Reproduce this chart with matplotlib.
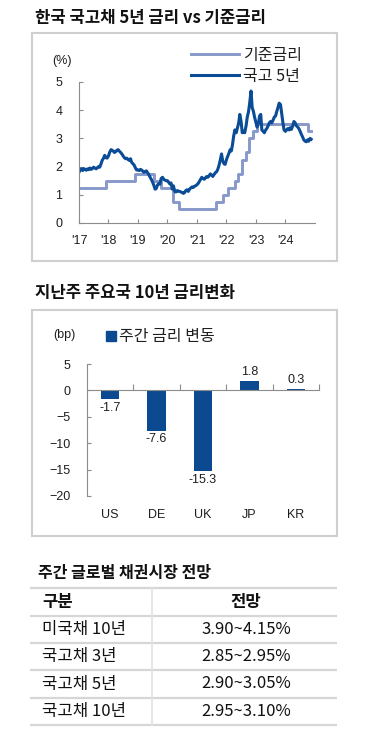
import numpy as np
import pandas as pd
import matplotlib
matplotlib.use("Agg")
from matplotlib import pyplot as plt
from matplotlib.patches import Rectangle, Patch

plt.rcParams["font.family"] = ["Liberation Sans", "Noto Sans CJK KR", "DejaVu Sans"]
KR = ["Noto Sans CJK KR", "DejaVu Sans"]

# ============
# data
# ============
# 한국 기준금리 (변경일, %)
base_dates = ["2017-01-01", "2017-11-30", "2018-11-30", "2019-07-18", "2019-10-16",
              "2020-03-16", "2020-05-28", "2021-08-26", "2021-11-25", "2022-01-14",
              "2022-04-14", "2022-05-26", "2022-07-13", "2022-08-25", "2022-10-12",
              "2022-11-24", "2023-01-13", "2024-10-11", "2024-11-15"]
base_rate = [1.25, 1.50, 1.75, 1.50, 1.25,
             0.75, 0.50, 0.75, 1.00, 1.25,
             1.50, 1.75, 2.25, 2.50, 3.00,
             3.25, 3.50, 3.25, 3.25]

# 국고 5년 (반월 간격, 2017-01 부터)
bond_start = "2017-01-01"
bond_5y = [
    1.80, 1.88, 1.92, 1.86, 1.93, 1.90, 1.87, 1.92, 1.89, 1.95, 1.90, 1.93,
    1.98, 1.95, 1.92, 1.96, 2.00, 1.98, 2.10, 2.22, 2.30, 2.40, 2.32, 2.30,
    2.38, 2.50, 2.60, 2.58, 2.55, 2.50, 2.53, 2.58, 2.60, 2.55, 2.50, 2.45,
    2.38, 2.32, 2.28, 2.30, 2.25, 2.22, 2.28, 2.15, 2.10, 2.05, 1.95, 1.88,
    1.88, 1.86, 1.90, 1.88, 1.84, 1.80, 1.82, 1.85, 1.78, 1.72, 1.62, 1.55,
    1.45, 1.35, 1.20, 1.22, 1.35, 1.40, 1.38, 1.58, 1.62, 1.55, 1.52, 1.50,
    1.50, 1.45, 1.38, 1.42, 1.20, 1.32, 1.12, 1.10, 1.15, 1.13, 1.12, 1.10,
    1.08, 1.05, 1.08, 1.15, 1.18, 1.12, 1.20, 1.24, 1.28, 1.26, 1.30, 1.32,
    1.36, 1.40, 1.48, 1.55, 1.62, 1.58, 1.55, 1.60, 1.65, 1.62, 1.68, 1.74,
    1.70, 1.65, 1.72, 1.78, 1.82, 1.90, 2.05, 2.22, 2.45, 2.20, 2.10, 2.08,
    2.25, 2.35, 2.48, 2.60, 2.55, 2.75, 3.10, 3.30, 3.20, 3.35, 3.55, 3.85,
    3.60, 3.20, 3.25, 3.20, 3.45, 3.75, 3.95, 4.25, 4.68, 4.10, 3.95, 3.75,
    3.55, 3.40, 3.55, 3.80, 3.85, 3.30, 3.25, 3.20, 3.30, 3.35, 3.45, 3.55,
    3.60, 3.55, 3.65, 3.75, 3.80, 3.95, 4.10, 4.25, 4.20, 3.90, 3.55, 3.30,
    3.25, 3.30, 3.35, 3.30, 3.38, 3.32, 3.45, 3.60, 3.55, 3.45, 3.40, 3.35,
    3.25, 3.15, 3.05, 2.95, 2.90, 2.88, 2.95, 2.90, 3.00, 2.97,
]
years = list(range(2017, 2025))
year_labels = ["'%02d" % (y % 100) for y in years]

# 주요국 10년 금리 주간 변동 (bp)
countries = ["US", "DE", "UK", "JP", "KR"]
chg_bp = [-1.7, -7.6, -15.3, 1.8, 0.3]

# 주간 글로벌 채권시장 전망
tbl_header = ["구분", "전망"]
tbl_items = ["미국채 10년", "국고채 3년", "국고채 5년", "국고채 10년"]
tbl_ranges = ["3.90~4.15%", "2.85~2.95%", "2.90~3.05%", "2.95~3.10%"]

# ============
# colors
# ============
c_bond = "#0b4c96"
c_base = "#8798ca"
c_bar = "#0b4a90"
c_axis = "#8c8c8c"
c_box = "#cfcfcf"
c_text = "#1e1e1e"

W, H = 390, 740
fig = plt.figure(figsize=(W / 100, H / 100), dpi=100)


def fig_rect(x0, y0, x1, y1):
    # pixel box (top-left origin) -> figure fraction rect
    return [x0 / W, 1 - y1 / H, (x1 - x0) / W, (y1 - y0) / H]


# overlay in pixel units for titles, frames and the table
bg = fig.add_axes([0, 0, 1, 1], zorder=-1)
bg.set_xlim(0, W)
bg.set_ylim(H, 0)
bg.axis("off")

bg.text(35, 18, "한국 국고채 5년 금리 vs 기준금리", family=KR, fontsize=12,
        fontweight="bold", va="center", ha="left", color="#111")
bg.add_patch(Rectangle((32, 33), 305, 228, fill=False, ec=c_box, lw=1.5))

bg.text(35, 293, "지난주 주요국 10년 금리변화", family=KR, fontsize=12,
        fontweight="bold", va="center", ha="left", color="#111")
bg.add_patch(Rectangle((32, 310), 305, 226, fill=False, ec=c_box, lw=1.5))

# ------------ chart 1 : line
ax1 = fig.add_axes(fig_rect(79, 82, 315, 223))
bdates = pd.to_datetime(base_dates)
ax1.step(bdates, base_rate, where="post", color=c_base, lw=2.1, label="기준금리")
ydates = pd.date_range(bond_start, periods=len(bond_5y), freq="SMS")
ax1.plot(ydates, bond_5y, color=c_bond, lw=2.2, label="국고 5년")

ax1.set_ylim(0, 5)
ax1.set_yticks(range(0, 6))
ax1.set_xlim(pd.Timestamp("2017-01-01"), pd.Timestamp("2025-01-01"))
ax1.set_xticks(pd.to_datetime(["%d-01-01" % y for y in years]), year_labels)
for s in ["top", "right"]:
    ax1.spines[s].set_visible(False)
for s in ["left", "bottom"]:
    ax1.spines[s].set_color(c_axis)
ax1.tick_params(axis="y", direction="in", length=3, color=c_axis, pad=12,
                labelsize=9, labelcolor=c_text)
ax1.tick_params(axis="x", direction="in", length=3, color=c_axis, pad=9,
                labelsize=9, labelcolor=c_text)
ax1.set_facecolor("none")
bg.text(62, 61, "(%)", fontsize=9, ha="center", va="center", color=c_text)
ax1.legend(loc="upper left", bbox_to_anchor=(191 / W, 1 - 47 / H),
           bbox_transform=fig.transFigure, frameon=False, prop={"family": KR, "size": 11.5},
           handlelength=3.0, handletextpad=0.25, labelspacing=0.25, borderpad=0,
           borderaxespad=0, labelcolor=c_text)

# ------------ chart 2 : bar
ax2 = fig.add_axes(fig_rect(87, 364, 319, 496))
xpos = np.arange(len(countries))
bars = ax2.bar(xpos, chg_bp, width=0.4, color=c_bar, label="주간 금리 변동")
ax2.bar_label(bars, labels=["%.1f" % v for v in chg_bp], padding=2, fontsize=9,
              color=c_text)
ax2.set_ylim(-20, 5)
ax2.set_yticks(range(-20, 6, 5))
ax2.set_xlim(-0.5, len(countries) - 0.5)
ax2.set_xticks(xpos + 0.5)
ax2.set_xticklabels([])
ax2.spines["bottom"].set_position(("data", 0))
for s in ["top", "right"]:
    ax2.spines[s].set_visible(False)
for s in ["left", "bottom"]:
    ax2.spines[s].set_color(c_axis)
ax2.tick_params(axis="y", direction="in", length=3, color=c_axis, pad=12,
                labelsize=9, labelcolor=c_text)
ax2.tick_params(axis="x", direction="in", length=4, color=c_axis)
ax2.set_facecolor("none")
sec = ax2.secondary_xaxis("bottom")
sec.set_xticks(xpos, countries)
sec.tick_params(length=0, pad=9, labelsize=9, labelcolor=c_text)
sec.spines["bottom"].set_visible(False)
bg.text(64, 335, "(bp)", fontsize=9, ha="center", va="center", color=c_text)
ax2.legend(handles=[Patch(color=c_bar)], labels=["주간 금리 변동"], loc="center left",
           bbox_to_anchor=(106 / W, 1 - 337 / H), bbox_transform=fig.transFigure,
           frameon=False, prop={"family": KR, "size": 11.5}, handlelength=0.6,
           handleheight=0.6, handletextpad=0.2, borderpad=0, borderaxespad=0,
           labelcolor=c_text)

# ------------ table
bg.text(38, 573, "주간 글로벌 채권시장 전망", family=KR, fontsize=11.5,
        fontweight="bold", va="center", ha="left", color="#111")
row_edges = [588, 616, 643, 670, 698, 725]
for yy in row_edges:
    bg.plot([30, 337], [yy, yy], color="#d6d6d6", lw=1.6, solid_capstyle="butt")
bg.plot([152, 152], [row_edges[0], row_edges[-1]], color="#e2e2e2", lw=1.2)
hy = (row_edges[0] + row_edges[1]) / 2
bg.text(42, hy, tbl_header[0], family=KR, fontsize=12, fontweight="bold",
        ha="left", va="center", color="#111")
bg.text(246, hy, tbl_header[1], family=KR, fontsize=12, fontweight="bold",
        ha="center", va="center", color="#111")
for i, (item, rng) in enumerate(zip(tbl_items, tbl_ranges)):
    cy = (row_edges[i + 1] + row_edges[i + 2]) / 2
    bg.text(42, cy, item, family=KR, fontsize=12, ha="left", va="center", color="#111")
    bg.text(246, cy, rng, family=KR, fontsize=12, ha="center", va="center", color="#111")

fig.savefig("out.png", dpi=100)
